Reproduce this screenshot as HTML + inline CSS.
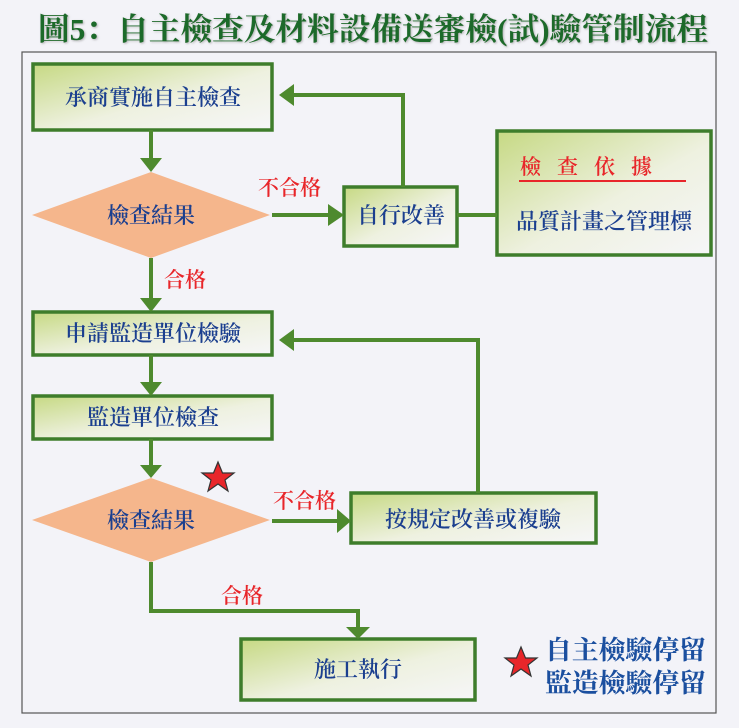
<!DOCTYPE html>
<html><head><meta charset="utf-8"><style>
body{margin:0;width:739px;height:723px;background:#f3f3f8;overflow:hidden;font-family:"Liberation Serif","Noto Serif CJK SC",serif;}
</style></head><body>
<svg width="739" height="723" viewBox="0 0 739 723" xmlns="http://www.w3.org/2000/svg">
<defs>
<linearGradient id="g" x1="0" y1="0" x2="1" y2="1">
<stop offset="0" stop-color="#c6d983"/><stop offset="0.55" stop-color="#eef1e0"/><stop offset="1" stop-color="#f6f6f8"/></linearGradient>
<filter id="sh"><feDropShadow dx="1" dy="1" stdDeviation="1" flood-color="#888" flood-opacity="0.6"/></filter>
</defs>
<rect width="739" height="723" fill="#f3f3f8"/>
<text x="38" y="40" textLength="670" lengthAdjust="spacingAndGlyphs" font-size="31" font-weight="bold" fill="#1f6b2a" filter="url(#sh)" font-family="'Liberation Serif','Noto Serif CJK SC',serif">圖5：自主檢查及材料設備送審檢(試)驗管制流程</text>
<rect x="22" y="52" width="694" height="661" fill="#f3f3f8" stroke="#555" stroke-width="1.2"/>
<g fill="url(#g)" stroke="#3e7d2b" stroke-width="3.5">
<rect x="33" y="64" width="239" height="66"/>
<rect x="344" y="187" width="113" height="59"/>
<rect x="497" y="131" width="214" height="124"/>
<rect x="33" y="312" width="239" height="43"/>
<rect x="33" y="396" width="239" height="43"/>
<rect x="351" y="493" width="245" height="50"/>
<rect x="241" y="639" width="234" height="61"/>
</g>
<polygon points="151,172 270,215 151,258 32,215" fill="#f5b68c"/>
<polygon points="151,478 270,520 151,562 32,520" fill="#f5b68c"/>
<g stroke="#4e8a2e" stroke-width="4" fill="none">
<line x1="151" y1="130" x2="151" y2="160"/>
<line x1="272" y1="215" x2="330" y2="215"/>
<polyline points="403,187 403,95 292,95"/>
<line x1="457" y1="215" x2="497" y2="215"/>
<line x1="151" y1="258" x2="151" y2="300"/>
<line x1="151" y1="355" x2="151" y2="384"/>
<line x1="151" y1="439" x2="151" y2="467"/>
<line x1="272" y1="521" x2="338" y2="521"/>
<polyline points="478,493 478,340 292,340"/>
<polyline points="151,562 151,611 358,611 358,628"/>
</g>
<g fill="#4e8a2e">
<polygon points="140,158 162,158 151,172"/>
<polygon points="328,204 344,215 328,226"/>
<polygon points="294,84 279,95 294,106"/>
<polygon points="140,298 162,298 151,312"/>
<polygon points="140,382 162,382 151,396"/>
<polygon points="140,465 162,465 151,478"/>
<polygon points="337,509 351,521 337,533"/>
<polygon points="294,329 279,340 294,351"/>
<polygon points="346,627 370,627 358,639"/>
</g>
<g font-size="22" fill="#1b3f8f" font-weight="600" text-anchor="middle" font-family="'Liberation Serif','Noto Serif CJK SC',serif">
<text x="153" y="105">承商實施自主檢查</text>
<text x="151" y="223">檢查結果</text>
<text x="401" y="223">自行改善</text>
<text x="604" y="229">品質計畫之管理標</text>
<text x="153" y="341">申請監造單位檢驗</text>
<text x="153" y="425">監造單位檢查</text>
<text x="151" y="528">檢查結果</text>
<text x="473" y="527">按規定改善或複驗</text>
<text x="358" y="677">施工執行</text>
</g>
<g font-size="21" fill="#e8262a" font-weight="600" font-family="'Liberation Serif','Noto Serif CJK SC',serif">
<text x="258" y="195">不合格</text>
<text x="164" y="287">合格</text>
<text x="273" y="508">不合格</text>
<text x="221" y="603">合格</text>
<text x="520" y="174" letter-spacing="16">檢查依據</text>
</g>
<line x1="519" y1="181" x2="686" y2="181" stroke="#e8262a" stroke-width="2"/>
<g fill="#e8262a" stroke="#333" stroke-width="1.2">
<polygon points="218,462 222.5,473 234,473 225,480 228,491 218,484 208,491 211,480 202,473 213.5,473"/>
<polygon points="521,647 525.5,658 537,658 528,665 531,676 521,669 511,676 514,665 505,658 516.5,658"/>
</g>
<g font-size="26" fill="#1b4f9f" font-weight="bold" font-family="'Liberation Serif','Noto Serif CJK SC',serif">
<text x="545" y="659" textLength="161" lengthAdjust="spacingAndGlyphs">自主檢驗停留</text>
<text x="545" y="692" textLength="161" lengthAdjust="spacingAndGlyphs">監造檢驗停留</text>
</g>
</svg>
</body></html>
